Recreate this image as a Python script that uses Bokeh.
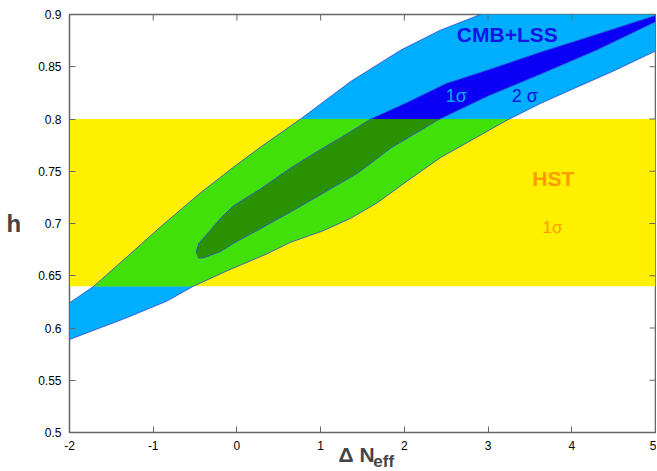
import math
from bokeh.plotting import figure
from bokeh.models import Range1d, FixedTicker, Label, LinearAxis
from bokeh.embed import file_html
from bokeh.resources import INLINE

# ---------------- data ----------------
x_lo, x_hi = -2.0, 5.0
h_lo, h_hi = 0.5, 0.9
x_ticks = [-2, -1, 0, 1, 2, 3, 4, 5]
x_tick_labels = ["-2", "-1", "0", "1", "2", "3", "4", "5"]
h_ticks = [0.5, 0.55, 0.6, 0.65, 0.7, 0.75, 0.8, 0.85, 0.9]
h_tick_labels = ["0.5", "0.55", "0.6", "0.65", "0.7", "0.75", "0.8", "0.85", "0.9"]
x_title, x_title_sub = "Δ N", "eff"
y_title = "h"

# HST 1-sigma band
hst_low, hst_high = 0.64, 0.80

# CMB+LSS 2-sigma contour
sig2_upper_x = [-2.0, -1.71, -1.30, -0.91, -0.44, -0.04, 0.28, 0.76, 1.36, 1.96, 2.43, 2.91, 3.50, 4.20, 5.00]
sig2_upper_h = [0.624, 0.640, 0.669, 0.697, 0.729, 0.754, 0.773, 0.800, 0.836, 0.866, 0.885, 0.900, 0.918, 0.935, 0.955]
sig2_lower_x = [-2.0, -1.31, -0.83, -0.52, -0.11, 0.36, 0.64, 1.03, 1.36, 1.68, 2.04, 2.43, 2.83, 3.23, 3.63, 4.02, 4.50, 5.00]
sig2_lower_h = [0.589, 0.610, 0.626, 0.640, 0.655, 0.671, 0.682, 0.693, 0.705, 0.720, 0.741, 0.763, 0.781, 0.799, 0.815, 0.829, 0.846, 0.865]

# CMB+LSS 1-sigma contour
sig1_upper_x = [-0.49, -0.455, -0.355, -0.196, -0.04, 0.28, 0.64, 0.96, 1.30, 1.60, 2.04, 2.50, 3.00, 3.63, 4.30, 5.00]
sig1_upper_h = [0.672, 0.681, 0.690, 0.705, 0.717, 0.733, 0.753, 0.769, 0.785, 0.800, 0.816, 0.834, 0.847, 0.864, 0.881, 0.899]
sig1_lower_x = [-0.465, -0.40, -0.20, -0.04, 0.28, 0.64, 1.03, 1.44, 1.835, 2.40, 3.00, 3.63, 4.30, 5.00]
sig1_lower_h = [0.667, 0.667, 0.673, 0.681, 0.695, 0.711, 0.729, 0.748, 0.772, 0.799, 0.822, 0.843, 0.866, 0.893]

# ---------------- helpers ----------------
def closed(ux, uh, lx, lh):
    xs = list(ux) + list(reversed(lx))
    ys = list(uh) + list(reversed(lh))
    return xs, ys


def clip_band(xs, ys, lo, hi):
    pts = list(zip(xs, ys))

    def cross(a, b, yb):
        t = (yb - a[1]) / (b[1] - a[1])
        return (a[0] + t * (b[0] - a[0]), yb)

    for yb, above in ((lo, True), (hi, False)):
        out = []
        n = len(pts)
        for i in range(n):
            cur, prev = pts[i], pts[i - 1]
            cin = cur[1] >= yb if above else cur[1] <= yb
            pin = prev[1] >= yb if above else prev[1] <= yb
            if cin:
                if not pin:
                    out.append(cross(prev, cur, yb))
                out.append(cur)
            elif pin:
                out.append(cross(prev, cur, yb))
        pts = out
    return [p[0] for p in pts], [p[1] for p in pts]


s2x, s2y = closed(sig2_upper_x, sig2_upper_h, sig2_lower_x, sig2_lower_h)
s1x, s1y = closed(sig1_upper_x, sig1_upper_h, sig1_lower_x, sig1_lower_h)
s2cx, s2cy = clip_band(s2x, s2y, hst_low, hst_high)
s1cx, s1cy = clip_band(s1x, s1y, hst_low, hst_high)

LIGHT_BLUE = "#00AEFF"
DARK_BLUE = "#0A00F5"
YELLOW = "#FFF000"
GREEN = "#40E008"
DARK_GREEN = "#2A9100"
EDGE = "#3050D0"
FRAME = "#666666"
FONT = "Liberation Sans"
NBSP = "\u00a0"

p = figure(
    frame_width=586, frame_height=418,
    min_border_left=69, min_border_right=1, min_border_top=14, min_border_bottom=20,
    x_range=Range1d(x_lo, x_hi), y_range=Range1d(h_lo, h_hi),
    output_backend="svg", toolbar_location=None,
    background_fill_color="white", border_fill_color="white",
)
p.xgrid.visible = False
p.ygrid.visible = False
p.outline_line_color = FRAME
p.outline_line_width = 1.5

# contours
p.patch(s2x, s2y, fill_color=LIGHT_BLUE, line_color=None)
p.patch(s1x, s1y, fill_color=DARK_BLUE, line_color=None)
# HST band
p.quad(left=[x_lo], right=[x_hi], bottom=[hst_low], top=[hst_high], fill_color=YELLOW, line_color=None)
# overlaps
p.patch(s2cx, s2cy, fill_color=GREEN, line_color=None)
p.patch(s1cx, s1cy, fill_color=DARK_GREEN, line_color=None)
# contour edges
p.line(sig2_upper_x, sig2_upper_h, line_color=EDGE, line_width=1, line_alpha=0.85)
p.line(sig2_lower_x, sig2_lower_h, line_color=EDGE, line_width=1, line_alpha=0.85)
p.line(s1x, s1y, line_color=EDGE, line_width=1, line_alpha=0.85)

# mirrored inward ticks on the right and top edges
p.ray(x=[x_hi] * len(h_ticks), y=h_ticks, length=6, length_units="screen", angle=math.pi,
      line_color=FRAME, line_width=1)
p.ray(x=x_ticks, y=[h_hi] * len(x_ticks), length=6, length_units="screen", angle=-math.pi / 2,
      line_color=FRAME, line_width=1)

# texts inside the frame
p.add_layout(Label(x=3.23, y=0.881, text="CMB+LSS", text_color="#1414E6", text_font=FONT,
                   text_font_style="bold", text_font_size="21px", text_align="center", text_baseline="middle"))
p.add_layout(Label(x=2.62, y=0.822, text="1σ", text_color=LIGHT_BLUE, text_font=FONT,
                   text_font_size="18px", text_align="center", text_baseline="middle"))
p.add_layout(Label(x=3.44, y=0.822, text="2 σ", text_color="#1010E0", text_font=FONT,
                   text_font_size="18px", text_align="center", text_baseline="middle"))
p.add_layout(Label(x=3.78, y=0.743, text="HST", text_color="#FF9A00", text_font=FONT,
                   text_font_style="bold", text_font_size="21px", text_align="center", text_baseline="middle"))
p.add_layout(Label(x=3.77, y=0.696, text="1σ", text_color="#FF9A00", text_font=FONT,
                   text_font_size="17px", text_align="center", text_baseline="middle"))

# axes
for ax, labs, vals in ((p.xaxis[0], x_tick_labels, x_ticks), (p.yaxis[0], h_tick_labels, h_ticks)):
    ax.ticker = FixedTicker(ticks=vals)
    ax.major_label_overrides = {v: s for v, s in zip(vals, labs)}
    ax.major_tick_in = 6
    ax.major_tick_out = 0
    ax.minor_tick_in = 0
    ax.minor_tick_out = 0
    ax.axis_line_color = FRAME
    ax.major_tick_line_color = FRAME
    ax.major_label_text_font = FONT
    ax.major_label_text_font_size = "12px"
    ax.major_label_text_color = "black"
    ax.major_label_standoff = 8

# x title: main part on the primary axis, subscript on an extra tick-less axis below it
xa = p.xaxis[0]
xa.axis_label = x_title + NBSP * 2
xa.axis_label_text_font = FONT
xa.axis_label_text_font_style = "bold"
xa.axis_label_text_font_size = "21px"
xa.axis_label_standoff = -10

sub = LinearAxis(ticker=FixedTicker(ticks=[]))
sub.axis_line_color = None
sub.major_tick_line_color = None
sub.minor_tick_line_color = None
sub.major_tick_in = 0
sub.major_tick_out = 0
sub.minor_tick_in = 0
sub.minor_tick_out = 0
sub.major_label_standoff = 0
sub.axis_label = NBSP * 9 + x_title_sub
sub.axis_label_text_font = FONT
sub.axis_label_text_font_style = "bold"
sub.axis_label_text_font_size = "17px"
sub.axis_label_standoff = -17
p.add_layout(sub, "below")

ya = p.yaxis[0]
ya.axis_label = y_title
ya.axis_label_orientation = "horizontal"
ya.axis_label_text_font = FONT
ya.axis_label_text_font_style = "bold"
ya.axis_label_text_font_size = "24px"
ya.axis_label_standoff = 14

open("out.html", "w").write(file_html(p, INLINE))
